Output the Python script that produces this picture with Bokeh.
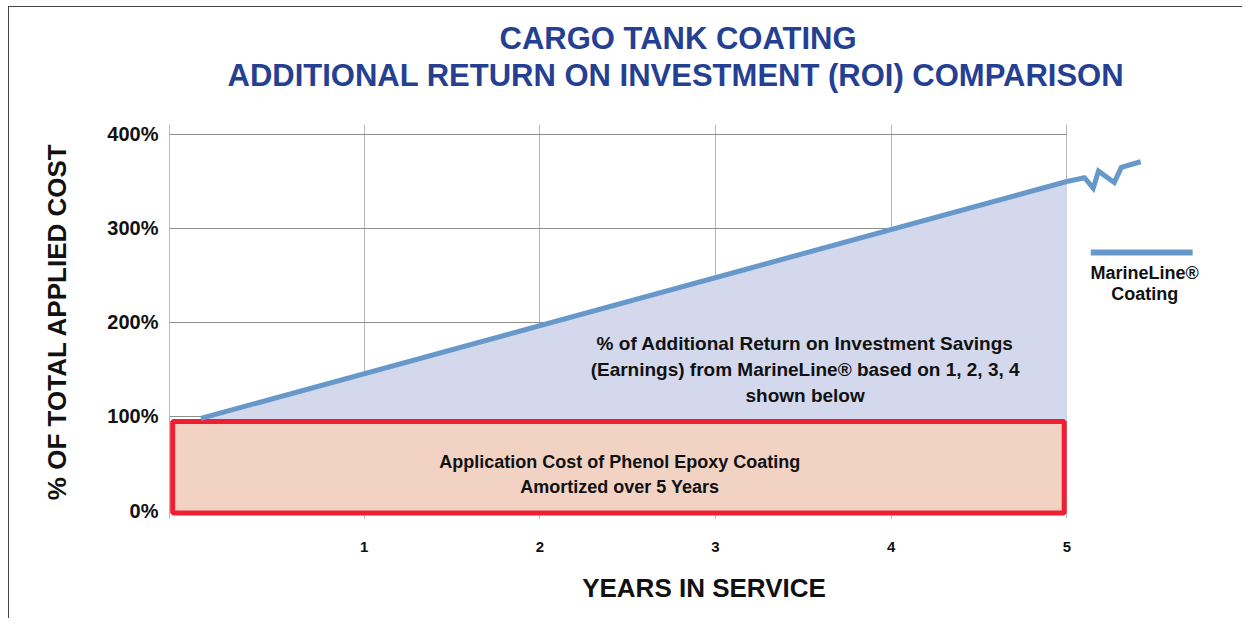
from bokeh.plotting import figure
from bokeh.models import Title, Range1d, FixedTicker
from bokeh.core.properties import value
from bokeh.embed import file_html
from bokeh.resources import INLINE

# ---- data ----
years_line = [0.07, 5.0]
roi_line = [98, 350]
break_years = [5.0, 5.10, 5.15, 5.18, 5.27, 5.31, 5.42]
break_roi = [350, 354, 343, 361, 349, 365, 371]
box_years = [-0.09, 4.985]
box_pct = [-2.7, 94.7]
grid_pct = [100, 200, 300, 400]
x_ticks = [1, 2, 3, 4, 5]
y_ticks = [0, 100, 200, 300, 400]
y_tick_labels = ["0%", "100%", "200%", "300%", "400%"]
title_lines = ["CARGO TANK COATING", "ADDITIONAL RETURN ON INVESTMENT (ROI) COMPARISON"]
savings_text = ["% of Additional Return on Investment Savings",
                "(Earnings) from MarineLine\u00ae based on 1, 2, 3, 4",
                "shown below"]
cost_text = ["Application Cost of Phenol Epoxy Coating", "Amortized over 5 Years"]
legend_text = ["MarineLine\u00ae", "Coating"]

FONT = "Liberation Sans"
BLUE = "#6699c9"
TITLE_BLUE = "#253f92"

X0, X1 = -0.108, 5.977
p = figure(width=1234, height=612, output_backend="svg", toolbar_location=None,
           x_range=Range1d(X0, X1), y_range=Range1d(-8.5, 410.6),
           min_border_left=160, min_border_right=5, min_border_top=117,
           min_border_bottom=101)
p.outline_line_color = None
p.styles = {"margin-left": "8px", "margin-top": "6px",
            "border-top": "1px solid #444", "border-left": "1px solid #444"}

# titles
t2 = Title(text=title_lines[1], align="left", text_font=FONT, text_font_size="31px",
           text_font_style="bold", text_color=TITLE_BLUE, offset=58, standoff=64)
t1 = Title(text=title_lines[0], align="left", text_font=FONT, text_font_size="31px",
           text_font_style="bold", text_color=TITLE_BLUE, offset=330, standoff=-64)
p.add_layout(t2, "above")
p.add_layout(t1, "above")

# grids
p.ygrid.visible = False
p.xgrid.ticker = FixedTicker(ticks=x_ticks)
p.xgrid.grid_line_color = "#b8b8b8"
p.xgrid.grid_line_width = 1
p.segment(x0=[X0] * len(grid_pct), y0=grid_pct, x1=[5.0] * len(grid_pct), y1=grid_pct,
          line_color="#8c8c8c", line_width=1)

# axes
p.xaxis.ticker = FixedTicker(ticks=x_ticks)
p.xaxis.axis_line_color = None
p.xaxis.major_tick_line_color = None
p.xaxis.minor_tick_line_color = None
p.xaxis.major_tick_out = 0
p.xaxis.major_label_standoff = 23
p.xaxis.major_label_text_font = FONT
p.xaxis.major_label_text_font_style = "bold"
p.xaxis.major_label_text_font_size = "15px"
p.xaxis.major_label_text_color = "#111111"
p.xaxis.axis_label = "YEARS IN SERVICE"
p.xaxis.axis_label_text_font = FONT
p.xaxis.axis_label_text_font_style = "bold"
p.xaxis.axis_label_text_font_size = "26px"
p.xaxis.axis_label_text_color = "#111111"
p.xaxis.axis_label_standoff = 18

p.yaxis.ticker = FixedTicker(ticks=y_ticks)
p.yaxis.major_label_overrides = {t: l for t, l in zip(y_ticks, y_tick_labels)}
p.yaxis.axis_line_color = "#b8b8b8"
p.yaxis.major_tick_line_color = None
p.yaxis.minor_tick_line_color = None
p.yaxis.major_tick_out = 0
p.yaxis.major_label_standoff = 11
p.yaxis.major_label_text_font = FONT
p.yaxis.major_label_text_font_style = "bold"
p.yaxis.major_label_text_font_size = "20px"
p.yaxis.major_label_text_color = "#111111"
p.yaxis.axis_label = "% OF TOTAL APPLIED COST"
p.yaxis.axis_label_text_font = FONT
p.yaxis.axis_label_text_font_style = "bold"
p.yaxis.axis_label_text_font_size = "26px"
p.yaxis.axis_label_text_color = "#111111"
p.yaxis.axis_label_standoff = 32

# savings fill
p.varea(x=years_line, y1=[box_pct[1]] * len(years_line), y2=roi_line,
        fill_color="#d3d8ec", fill_alpha=1)

# cost box
p.quad(left=box_years[0], right=box_years[1], bottom=box_pct[0], top=box_pct[1],
       fill_color="#f2d2c3", line_color="#ee1f33", line_width=5)

# MarineLine line
p.line(years_line, roi_line, line_color=BLUE, line_width=5)
p.line(break_years, break_roi, line_color=BLUE, line_width=5, line_join="miter")

# texts
p.text(x=[3.51] * 3, y=[177.7, 150, 122.3], text=savings_text, text_align="center",
       text_baseline="middle", text_font=value(FONT), text_font_style="bold",
       text_font_size="19px", text_color="#111111")
p.text(x=[2.455] * 2, y=[52.1, 25.5], text=cost_text, text_align="center",
       text_baseline="middle", text_font=value(FONT), text_font_style="bold",
       text_font_size="18px", text_color="#111111")

# legend
p.line([5.136, 5.716], [274.5, 274.5], line_color=BLUE, line_width=6)
p.text(x=[5.443] * 2, y=[253, 229.8], text=legend_text, text_align="center",
       text_baseline="middle", text_font=value(FONT), text_font_style="bold",
       text_font_size="18px", text_color="#111111")

open("out.html", "w").write(file_html(p, INLINE))
